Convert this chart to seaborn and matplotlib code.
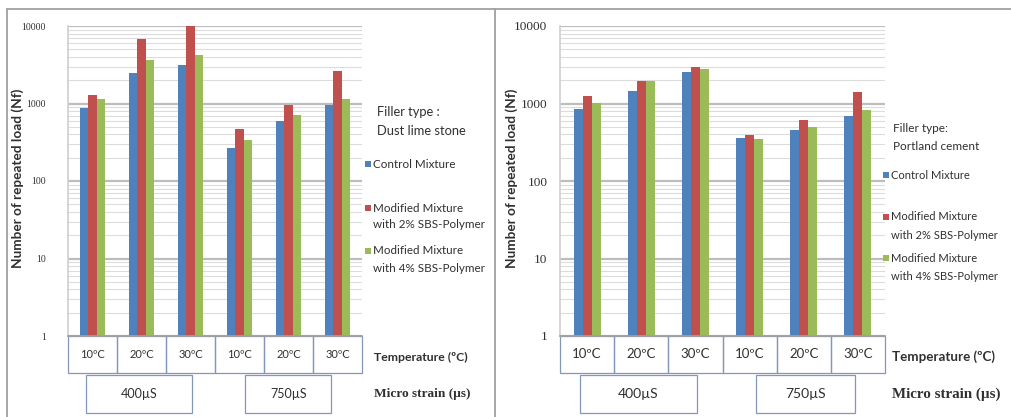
import matplotlib
matplotlib.use("Agg")
import matplotlib.pyplot as plt
import matplotlib.transforms as mtransforms
from matplotlib.patches import Rectangle
from matplotlib.lines import Line2D
import seaborn as sns
import pandas as pd

# ---------------- data ----------------
group_keys = ["400-10", "400-20", "400-30", "750-10", "750-20", "750-30"]
temp_labels = ["10\u00baC", "20\u00baC", "30\u00baC", "10\u00baC", "20\u00baC", "30\u00baC"]
strain_labels = ["400\u00b5S", "750\u00b5S"]
series_names = ["Control Mixture",
                "Modified Mixture\nwith 2% SBS-Polymer",
                "Modified Mixture\nwith 4% SBS-Polymer"]

left_control = [870, 2450, 3150, 270, 590, 960]
left_sbs2 = [1290, 6750, 10000, 465, 955, 2630]
left_sbs4 = [1150, 3650, 4200, 340, 720, 1150]

right_control = [860, 1450, 2570, 360, 450, 690]
right_sbs2 = [1250, 1950, 2990, 390, 620, 1400]
right_sbs4 = [1030, 1970, 2790, 345, 500, 830]

colors = ["#4F81BD", "#C0504D", "#9BBB59"]


def make_df(c, s2, s4):
    rows = []
    for name, vals in zip(series_names, [c, s2, s4]):
        for g, v in zip(group_keys, vals):
            rows.append({"group": g, "series": name, "Nf": v})
    return pd.DataFrame(rows)


df_left = make_df(left_control, left_sbs2, left_sbs4)
df_right = make_df(right_control, right_sbs2, right_sbs4)

sns.set_theme(style="white")
plt.rcParams["font.family"] = ["Lato", "DejaVu Sans"]

W, H = 1011, 417
fig = plt.figure(figsize=(W / 100, H / 100), dpi=100)


def px_axes(l, r, t, b):
    return fig.add_axes([l / W, 1 - b / H, (r - l) / W, (b - t) / H])


box_col = "#8397B8"
text_col = "#303030"


def draw_panel(ax, df, tick_fs, tick_pad, cat_fs, strain_fs, strain_boxes):
    ax.set_yscale("log")
    sns.barplot(data=df, x="group", y="Nf", hue="series", order=group_keys,
                hue_order=series_names, palette=colors, width=0.5, gap=0,
                saturation=1, ax=ax, legend=False, edgecolor="none")
    ax.set_ylim(1, 10000)
    ax.set_xlim(-0.5, 5.5)
    ax.set_axisbelow(True)
    ax.yaxis.grid(True, which="major", color="#BDBDBD", linewidth=1.6)
    ax.yaxis.grid(True, which="minor", color="#DCDCDC", linewidth=0.8)
    ax.xaxis.grid(False)
    ax.set_yticks([1, 10, 100, 1000, 10000])
    ax.set_yticklabels(["1", "10", "100", "1000", "10000"],
                       family=["Liberation Serif"], fontsize=tick_fs, color=text_col)
    ax.tick_params(axis="y", which="both", length=0, pad=tick_pad)
    ax.tick_params(axis="x", length=0, labelbottom=False)
    ax.set_xlabel("")
    ax.set_ylabel("")
    for s in ["top", "right"]:
        ax.spines[s].set_visible(False)
    ax.spines["left"].set_color("#D0D0D0")
    ax.spines["bottom"].set_color("#A0A0A0")
    trans = mtransforms.blended_transform_factory(ax.transData, ax.transAxes)
    # temperature boxes
    bh = 37 / 310
    for i, lab in enumerate(temp_labels):
        ax.add_patch(Rectangle((i - 0.5, -bh), 1, bh, transform=trans,
                               fill=False, edgecolor=box_col, lw=0.9, clip_on=False))
        ax.text(i, -bh / 2, lab, transform=trans, ha="center", va="center",
                fontsize=cat_fs, color=text_col)
    # strain boxes
    top2 = -39 / 310
    bot2 = -77 / 310
    for (x0, x1), lab in zip(strain_boxes, strain_labels):
        ax.add_patch(Rectangle((x0, bot2), x1 - x0, top2 - bot2, transform=trans,
                               fill=False, edgecolor=box_col, lw=0.9, clip_on=False))
        ax.text((x0 + x1) / 2, (top2 + bot2) / 2, lab, transform=trans,
                ha="center", va="center", fontsize=strain_fs, color=text_col)


ax_l = px_axes(68, 362, 26, 336)
draw_panel(ax_l, df_left, 7, 16, 8, 9, [(-0.13, 2.03), (3.12, 4.87)])
ax_r = px_axes(560, 885, 26, 336)
draw_panel(ax_r, df_right, 9.5, 9, 9.5, 10, [(-0.13, 2.03), (3.12, 4.94)])


def ftext(x, y, s, **kw):
    fig.text(x / W, 1 - y / H, s, **kw)


def legend_block(x_marker, title_x, title_y, title, entries_y, fs_title, fs, dy):
    ftext(title_x, title_y[0], title[0], fontsize=fs_title, color=text_col, va="center")
    ftext(title_x, title_y[1], title[1], fontsize=fs_title, color=text_col, va="center")
    for (y, name), c in zip(zip(entries_y, series_names), colors):
        lines = name.split("\n")
        fig.patches.append(Rectangle(((x_marker - 3) / W, 1 - (y + 3) / H), 6 / W, 6 / H,
                                     transform=fig.transFigure, facecolor=c,
                                     edgecolor="none"))
        ftext(x_marker + 5, y, lines[0], fontsize=fs, color=text_col, va="center")
        if len(lines) > 1:
            ftext(x_marker + 5, y + dy, lines[1], fontsize=fs, color=text_col, va="center")


legend_block(368, 377, (112, 131), ("Filler type :", "Dust lime stone"),
             (164, 208, 251), 9.3, 8.4, 17)
legend_block(886, 893, (128, 147), ("Filler type:", "Portland cement"),
             (175, 217, 258), 8.5, 8.0, 18)

# axis titles
for x in (18, 512):
    fig.text(x / W, 1 - 178 / H, "Number of repeated load (Nf)", rotation=90,
             ha="center", va="center", fontsize=9.8, fontweight="bold", color=text_col)
for x, fs_t, fs_m in ((374, 8.8, 9.6), (892, 9.6, 10.8)):
    ftext(x, 357, "Temperature (\u00baC)", fontsize=fs_t, fontweight="bold",
          color=text_col, va="center")
    ftext(x, 394, "Micro strain (\u00b5s)", fontsize=fs_m, fontweight="bold",
          color=text_col, va="center", family=["Liberation Serif"])

# outer frame lines
frame_col = "#A0A0A0"
fig.lines.append(Line2D([7 / W, 1.0], [1 - 9 / H, 1 - 9 / H], transform=fig.transFigure,
                        color=frame_col, lw=1.3))
for x in (7, 495):
    fig.lines.append(Line2D([x / W, x / W], [0, 1 - 9 / H], transform=fig.transFigure,
                            color=frame_col, lw=1.3))

fig.savefig("out.png", dpi=100)
